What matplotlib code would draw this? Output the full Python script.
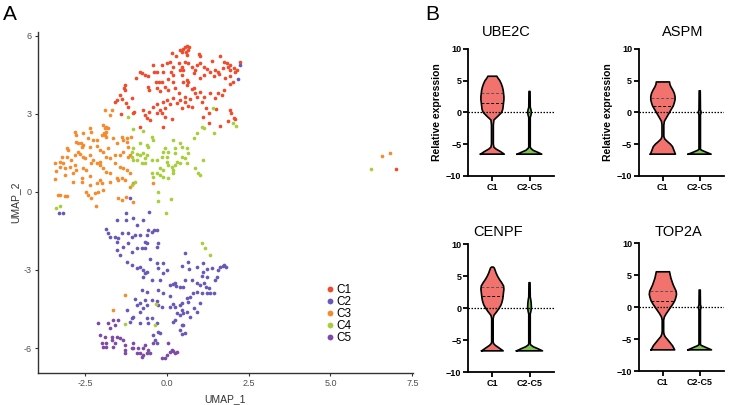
import numpy as np
import matplotlib
matplotlib.use("Agg")
import matplotlib.pyplot as plt
from matplotlib.lines import Line2D

plt.rcParams["font.family"] = ["Liberation Sans", "DejaVu Sans"]

# ---- panel A: UMAP embedding, (UMAP_1, UMAP_2) per cluster ----
clusters = ["C1", "C2", "C3", "C4", "C5"]
cluster_colors = ["#EF4B2C", "#6A58B8", "#F68B2E", "#A9CE3B", "#7D4AA6"]

c1_pts = [
    (0.49, 5.49), (0.56, 5.59), (0.63, 5.62), (0.69, 5.59), (0.66, 5.46), (0.59, 5.40),
    (0.46, 5.40), (0.41, 5.46), (0.15, 5.36), (0.29, 5.21), (1.00, 5.31), (1.02, 5.21),
    (0.61, 5.27), (1.63, 5.21), (1.76, 5.01), (1.84, 4.95), (1.94, 4.88), (1.87, 4.82),
    (2.04, 4.76), (2.09, 4.63), (1.94, 4.69), (2.16, 4.69), (2.24, 4.99), (1.39, 5.05),
    (1.02, 4.95), (0.92, 4.88), (1.14, 4.82), (1.22, 4.73), (1.33, 4.63), (1.48, 4.67),
    (1.58, 4.63), (1.71, 4.76), (1.14, 4.50), (1.02, 4.37), (1.43, 4.44), (1.61, 4.54),
    (1.79, 4.37), (1.94, 4.44), (-0.15, 4.88), (0.00, 4.95), (0.10, 5.01), (0.20, 4.82),
    (0.36, 4.95), (0.46, 4.82), (0.51, 4.69), (0.41, 4.69), (0.56, 5.01), (0.66, 4.95),
    (0.77, 4.82), (0.87, 4.69), (0.82, 4.56), (-0.41, 4.88), (-0.39, 4.63), (-0.29, 4.63),
    (-0.10, 4.63), (0.12, 4.63), (0.20, 4.50), (0.46, 4.50), (0.61, 4.31), (0.66, 4.24),
    (0.20, 4.24), (0.05, 4.33), (-0.13, 4.24), (-0.23, 4.24), (-0.34, 4.24), (-0.56, 4.44),
    (-0.66, 4.50), (-0.77, 4.56), (-0.94, 4.40), (-0.82, 4.63), (-0.56, 4.03), (-0.53, 3.92),
    (-0.31, 3.99), (-0.20, 3.90), (-0.05, 4.05), (0.05, 3.92), (0.26, 3.99), (0.36, 3.79),
    (0.51, 4.24), (0.61, 4.12), (0.77, 3.95), (0.82, 3.99), (0.87, 3.79), (1.02, 3.86),
    (1.14, 3.67), (1.33, 3.79), (1.48, 3.60), (1.58, 3.79), (1.68, 3.73), (1.76, 3.92),
    (1.94, 4.15), (2.02, 4.24), (-1.28, 4.10), (-1.31, 4.00), (-1.28, 3.92), (-1.43, 3.73),
    (-1.38, 3.59), (-1.53, 3.54), (-1.58, 3.44), (-1.24, 3.41), (-1.07, 3.60), (-1.17, 3.28),
    (-1.41, 2.99), (-1.02, 3.03), (-1.00, 3.09), (-0.71, 3.15), (-0.66, 2.96), (-0.61, 2.83),
    (-0.53, 3.09), (-0.41, 3.28), (-0.31, 3.38), (-0.22, 3.15), (-0.10, 3.47), (-0.05, 3.22),
    (0.02, 3.54), (0.10, 3.38), (0.20, 3.60), (0.31, 3.41), (0.41, 3.54), (0.56, 3.67),
    (0.56, 3.47), (0.71, 3.56), (0.92, 3.67), (1.07, 3.47), (0.46, 3.21), (0.66, 3.31),
    (0.77, 3.28), (1.20, 3.22), (1.28, 3.03), (1.51, 3.18), (1.12, 2.87), (1.28, 2.64),
    (1.63, 2.54), (1.94, 3.15), (1.96, 3.03), (1.87, 2.74), (2.04, 2.83), (2.09, 2.79),
    (0.15, 2.79), (-0.05, 2.90), (-0.10, 2.49), (-0.51, 2.77), (-0.82, 2.51), (-0.15, 3.03),
    (-0.31, 3.03), (7.01, 0.90),
]

c2_pts = [
    (2.24, 4.88), (2.17, 4.33), (-1.12, -0.24), (-3.29, -0.79), (-3.18, -0.82), (-1.24, -0.82),
    (-1.02, -1.01), (-0.71, -1.08), (-0.54, -0.76), (-1.51, -1.08), (-1.24, -1.08), (-0.92, -1.27),
    (-1.84, -1.44), (-1.79, -1.59), (-1.73, -1.72), (-1.58, -1.72), (-1.48, -1.78), (-1.53, -1.91),
    (-1.38, -1.59), (-1.17, -1.59), (-1.07, -1.72), (-0.97, -1.65), (-0.82, -1.65), (-0.61, -1.65),
    (-0.56, -1.46), (-0.46, -1.53), (-0.39, -1.46), (-0.29, -1.46), (-0.66, -1.91), (-0.61, -1.97),
    (-0.26, -1.95), (-1.53, -2.23), (-1.33, -2.10), (-1.17, -1.97), (-1.07, -2.29), (-0.92, -2.17),
    (-0.77, -2.17), (-0.66, -2.17), (-0.31, -2.10), (-1.43, -2.42), (-1.22, -2.68), (-1.07, -2.81),
    (-0.92, -2.94), (-0.82, -2.90), (-0.71, -3.00), (-0.66, -3.13), (-0.73, -3.26), (-0.61, -3.06),
    (-0.51, -2.59), (-0.31, -2.72), (-0.26, -2.94), (-0.10, -2.74), (0.00, -3.00), (-0.46, -3.38),
    (-0.20, -3.38), (-0.10, -3.13), (0.56, -2.33), (0.46, -2.85), (0.66, -2.68), (0.69, -2.97),
    (0.92, -2.90), (1.12, -2.74), (1.22, -2.97), (1.38, -2.94), (1.58, -3.00), (1.63, -2.90),
    (1.71, -2.85), (1.76, -2.82), (1.82, -2.90), (1.53, -3.26), (1.48, -3.38), (1.22, -3.26),
    (1.07, -3.23), (1.12, -3.06), (0.77, -3.38), (0.56, -3.38), (0.41, -3.64), (0.26, -3.51),
    (0.20, -3.54), (0.29, -3.62), (0.10, -3.59), (0.51, -3.67), (0.92, -3.51), (1.02, -3.58),
    (1.14, -3.49), (1.20, -3.64), (1.28, -3.71), (1.24, -3.87), (1.33, -3.90), (1.43, -3.87),
    (1.07, -3.90), (0.92, -3.86), (0.80, -3.90), (0.71, -4.03), (0.61, -4.09), (0.66, -4.22),
    (0.46, -4.26), (0.41, -4.35), (0.26, -4.41), (0.20, -4.31), (0.10, -4.41), (0.10, -4.00),
    (-0.10, -3.90), (-0.26, -3.77), (-0.61, -3.83), (-0.77, -3.77), (-0.97, -4.13), (-0.90, -4.35),
    (-0.82, -4.26), (-0.66, -4.15), (-0.61, -4.35), (-0.46, -4.15), (-0.31, -4.18), (-0.26, -4.35),
    (-0.15, -4.41), (0.46, -4.54), (0.51, -4.67), (0.61, -4.60), (0.41, -4.73), (0.31, -4.67),
    (0.26, -4.92), (0.20, -4.99), (0.82, -4.47), (0.92, -4.60), (1.02, -4.28), (0.71, -4.79),
    (0.51, -5.12), (0.46, -5.12), (0.41, -5.31), (0.46, -5.46), (0.56, -5.41), (-0.71, -4.47),
    (-0.82, -4.60), (-1.02, -4.79), (-1.07, -4.86), (-1.12, -4.99), (-1.22, -4.54), (-0.82, -5.05),
    (-0.56, -5.05), (-0.61, -4.86), (-0.46, -4.86), (-0.31, -5.05), (-0.26, -5.37), (-0.22, -5.44),
    (-0.41, -5.50), (-0.36, -5.69), (-0.31, -5.82),
]

c3_pts = [
    (-1.89, 3.15), (-1.68, 3.15), (-1.73, 2.96), (-2.81, 2.32), (-2.76, 2.19), (-2.55, 2.26),
    (-2.35, 2.45), (-2.30, 2.32), (-2.40, 2.06), (-2.24, 2.00), (-2.14, 2.00), (-1.94, 2.58),
    (-1.89, 2.45), (-1.84, 2.51), (-1.79, 2.45), (-1.84, 2.32), (-1.89, 2.19), (-1.84, 2.13),
    (-1.92, 2.26), (-1.99, 2.19), (-1.63, 2.06), (-1.38, 2.13), (-1.33, 2.00), (-1.22, 2.06),
    (-1.10, 2.13), (-2.76, 1.94), (-2.70, 1.87), (-2.62, 1.87), (-2.55, 1.81), (-2.60, 1.74),
    (-3.06, 1.68), (-3.01, 1.62), (-2.70, 1.55), (-2.65, 1.46), (-2.35, 1.74), (-2.14, 1.77),
    (-2.04, 1.62), (-1.94, 1.55), (-1.79, 1.68), (-1.58, 1.42), (-1.33, 1.55), (-1.17, 1.74),
    (-1.22, 1.94), (-1.53, 1.87), (-3.21, 1.36), (-3.27, 1.17), (-3.06, 1.36), (-2.91, 1.23),
    (-2.81, 1.42), (-2.55, 1.36), (-2.50, 1.29), (-2.35, 1.42), (-2.24, 1.23), (-2.14, 1.13),
    (-2.04, 1.17), (-1.84, 1.36), (-1.73, 1.29), (-1.58, 1.10), (-1.43, 1.42), (-1.17, 1.36),
    (-1.12, 1.42), (-3.42, 1.10), (-3.39, 0.82), (-3.27, 0.97), (-3.16, 1.10), (-3.11, 0.91),
    (-2.96, 0.97), (-2.81, 1.04), (-2.76, 0.85), (-2.55, 0.91), (-2.45, 0.85), (-2.30, 1.10),
    (-2.04, 1.04), (-1.94, 0.91), (-1.84, 0.78), (-1.73, 0.72), (-1.43, 0.97), (-1.33, 0.94),
    (-1.22, 0.85), (-3.42, 0.49), (-3.11, 0.65), (-2.86, 0.72), (-2.60, 0.53), (-2.35, 0.62),
    (-2.04, 0.46), (-1.53, 0.53), (-1.48, 0.46), (-1.38, 0.53), (-1.12, 0.72), (-2.86, 0.40),
    (-2.60, 0.40), (-2.35, 0.27), (-2.45, 0.01), (-2.40, -0.12), (-2.19, -0.05), (-2.09, 0.01),
    (-1.94, 0.08), (-2.14, 0.33), (-1.99, 0.33), (-1.73, 0.40), (-1.28, 0.46), (-1.12, 0.21),
    (-1.02, 0.33), (-0.43, 0.33), (-3.32, -0.12), (-3.27, -0.12), (-3.11, -0.15), (-3.06, -0.14),
    (-2.30, -0.24), (-2.16, -0.54), (-1.48, -0.24), (-1.38, -0.31), (-1.24, -0.18), (-1.04, -0.37),
    (-1.28, -3.96), (-1.63, -4.54), (6.56, 1.37), (6.83, 1.51),
]

c4_pts = [
    (-1.17, 2.90), (-1.04, 2.41), (-0.71, 2.36), (-0.46, 2.13), (-0.41, 2.00), (-0.61, 1.81),
    (-0.56, 1.74), (-0.82, 1.87), (-1.02, 1.68), (-1.07, 1.55), (-0.92, 1.46), (-0.82, 1.42),
    (-0.71, 1.49), (-0.61, 1.42), (-0.66, 1.29), (-0.92, 1.23), (-1.02, 1.23), (-1.07, 1.36),
    (-0.77, 1.10), (-0.66, 1.10), (-0.46, 1.23), (-0.31, 1.23), (-0.15, 1.36), (-0.10, 1.55),
    (-0.05, 1.68), (0.05, 1.55), (0.20, 2.00), (0.26, 1.68), (0.41, 1.87), (0.46, 1.74),
    (0.26, 1.49), (0.00, 1.36), (0.00, 1.17), (0.05, 1.04), (0.15, 0.97), (0.20, 0.85),
    (0.26, 1.04), (0.31, 1.17), (0.41, 1.10), (0.46, 1.36), (0.56, 1.29), (0.61, 1.10),
    (0.66, 1.49), (0.63, 1.68), (0.82, 2.06), (0.92, 2.26), (1.07, 2.51), (1.14, 2.47),
    (1.12, 1.23), (0.87, 0.91), (0.97, 0.72), (1.02, 0.65), (-0.20, 0.91), (-0.31, 0.72),
    (-0.41, 0.59), (-0.46, 0.72), (-0.22, 0.65), (-0.10, 0.59), (0.05, 0.53), (0.20, 0.74),
    (-0.12, 0.85), (-0.97, 0.40), (-1.07, 0.27), (1.40, 3.22), (1.45, 2.26), (2.01, 2.65),
    (2.11, 2.55), (-0.26, -0.01), (-0.26, -0.35), (0.12, -0.28), (-0.02, -0.82), (-3.39, -0.63),
    (-3.27, -0.54), (1.07, -1.95), (1.17, -2.17), (1.33, -2.42), (-0.34, -4.32), (-1.26, -5.08),
    (-0.36, -5.13), (6.25, 0.88),
]

c5_pts = [
    (-2.09, -5.05), (-2.04, -5.50), (-1.99, -5.79), (-1.89, -5.56), (-1.84, -5.82), (-1.79, -5.05),
    (-1.73, -5.24), (-1.63, -4.92), (-1.58, -5.12), (-1.48, -4.92), (-1.68, -5.56), (-1.53, -5.56),
    (-1.43, -5.63), (-1.58, -5.82), (-1.63, -5.95), (-1.33, -5.69), (-1.28, -5.88), (-1.28, -6.08),
    (-1.28, -6.21), (-1.07, -6.01), (-1.02, -6.01), (-1.02, -5.82), (-0.92, -6.21), (-0.77, -6.33),
    (-0.71, -6.27), (-0.71, -6.01), (-0.66, -5.88), (-0.56, -6.08), (-0.51, -6.21), (-0.61, -6.21),
    (-0.82, -6.21), (-0.87, -6.01), (-0.41, -5.82), (-0.15, -6.40), (-0.05, -6.40), (0.00, -6.27),
    (0.05, -5.82), (0.10, -6.14), (0.15, -6.08), (0.20, -6.10), (0.26, -6.21), (0.31, -6.14),
    (-1.84, -5.95), (-1.68, -5.69), (-1.94, -5.95),
]
cluster_pts = [c1_pts, c2_pts, c3_pts, c4_pts, c5_pts]

# ---- panel B: violin profiles (expression value, half width) ----
genes = ["UBE2C", "ASPM", "CENPF", "TOP2A"]
groups = ["C1", "C2-C5"]
group_colors = ["#F2736E", "#7DC352"]

ube2c_c1_y = [-6.6, -6.2, -5.8, -5.5, -5.0, -2.0, -1.2, -0.6, 0.0, 0.5, 1.0, 1.5, 2.0, 2.5, 3.0, 3.5, 4.0, 4.5, 5.0, 5.4, 5.7]
ube2c_c1_w = [0.32, 0.22, 0.10, 0.04, 0.025, 0.025, 0.04, 0.15, 0.25, 0.28, 0.29, 0.30, 0.31, 0.31, 0.30, 0.29, 0.27, 0.24, 0.20, 0.15, 0.12]
ube2c_rest_y = [-6.6, -6.3, -6.0, -5.7, -5.5, -0.8, -0.4, 0.0, 0.4, 0.8, 3.3]
ube2c_rest_w = [0.33, 0.22, 0.10, 0.04, 0.02, 0.02, 0.04, 0.05, 0.04, 0.02, 0.015]

aspm_c1_y = [-6.6, -6.0, -5.4, -5.0, -4.6, -4.2, -3.8, -2.0, -1.4, -1.0, -0.5, 0.0, 0.5, 1.0, 1.5, 2.0, 2.5, 3.0, 3.5, 4.0, 4.4, 4.8]
aspm_c1_w = [0.34, 0.30, 0.26, 0.20, 0.12, 0.05, 0.025, 0.025, 0.04, 0.08, 0.13, 0.18, 0.23, 0.28, 0.31, 0.33, 0.33, 0.31, 0.27, 0.22, 0.19, 0.18]
aspm_rest_y = [-6.6, -6.3, -6.0, -5.85, -0.4, 0.0, 0.4, 3.4]
aspm_rest_w = [0.31, 0.18, 0.06, 0.02, 0.02, 0.04, 0.02, 0.015]

cenpf_c1_y = [-6.65, -6.2, -5.8, -5.5, -5.2, -1.6, -1.1, -0.5, 0.0, 0.5, 1.0, 1.5, 2.0, 2.5, 3.0, 3.5, 4.0, 4.5, 5.0, 5.5, 6.0, 6.3, 6.45]
cenpf_c1_w = [0.29, 0.18, 0.08, 0.03, 0.02, 0.02, 0.04, 0.12, 0.18, 0.23, 0.26, 0.28, 0.29, 0.30, 0.31, 0.30, 0.25, 0.19, 0.14, 0.10, 0.07, 0.05, 0.02]
cenpf_rest_y = [-6.65, -6.3, -6.0, -5.7, -5.5, -0.9, -0.4, 0.2, 0.8, 1.3, 1.8, 4.0]
cenpf_rest_w = [0.35, 0.22, 0.10, 0.03, 0.02, 0.02, 0.04, 0.05, 0.045, 0.035, 0.02, 0.015]

top2a_c1_y = [-6.65, -6.0, -5.5, -5.0, -4.6, -4.2, -3.8, -2.0, -1.5, -1.0, -0.5, 0.0, 0.5, 1.0, 1.5, 2.0, 2.5, 3.0, 3.5, 4.0, 4.5, 5.0, 5.55]
top2a_c1_w = [0.32, 0.26, 0.19, 0.12, 0.06, 0.03, 0.02, 0.02, 0.04, 0.09, 0.15, 0.21, 0.27, 0.32, 0.35, 0.37, 0.36, 0.32, 0.28, 0.25, 0.22, 0.20, 0.18]
top2a_rest_y = [-6.65, -6.3, -6.0, -5.85, -0.4, 0.0, 0.4, 2.7]
top2a_rest_w = [0.32, 0.18, 0.06, 0.02, 0.02, 0.04, 0.02, 0.015]

# C1 quartile / median lines
c1_q3 = [3.1, 2.3, 3.4, 2.6]
c1_median = [1.5, 1.0, 1.9, 1.0]

violins = [
    [(ube2c_c1_y, ube2c_c1_w), (ube2c_rest_y, ube2c_rest_w)],
    [(aspm_c1_y, aspm_c1_w), (aspm_rest_y, aspm_rest_w)],
    [(cenpf_c1_y, cenpf_c1_w), (cenpf_rest_y, cenpf_rest_w)],
    [(top2a_c1_y, top2a_c1_w), (top2a_rest_y, top2a_rest_w)],
]

W, H = 729, 405
fig = plt.figure(figsize=(W / 100, H / 100), dpi=100)


def px_box(left, top, right, bottom):
    return [left / W, 1 - bottom / H, (right - left) / W, (bottom - top) / H]


# ---------------- panel A ----------------
ax = fig.add_axes(px_box(37.7, 32, 413, 373))
for pts, col, name in zip(cluster_pts, cluster_colors, clusters):
    pts = np.array(pts)
    ax.scatter(pts[:, 0], pts[:, 1], s=7, color=col, linewidths=0, label=name)

ax.set_xlim(-3.94, 7.52)
ax.set_ylim(-6.96, 6.15)
ax.set_xticks([-2.5, 0.0, 2.5, 5.0, 7.5])
ax.set_xticklabels(["-2.5", "0.0", "2.5", "5.0", "7.5"])
ax.set_yticks([-6, -3, 0, 3, 6])
ax.set_yticklabels(["-6", "-3", "0", "3", "6"])
for s in ["top", "right"]:
    ax.spines[s].set_visible(False)
for s in ["left", "bottom"]:
    ax.spines[s].set_color("#333333")
    ax.spines[s].set_linewidth(1.0)
ax.tick_params(length=2.5, width=0.8, color="#333333", labelsize=6.5, labelcolor="#4D4D4D", pad=2)
ax.set_xlabel("UMAP_1", fontsize=7.5, color="#333333", labelpad=4)
ax.set_ylabel("UMAP_2", fontsize=7.5, color="#333333", labelpad=2)

handles = [Line2D([], [], marker="o", ls="none", ms=4.2, mec="none", mfc=c) for c in cluster_colors]
ax.legend(handles, clusters, loc="center left", bbox_to_anchor=(326 / W, 1 - 314 / H),
          bbox_transform=fig.transFigure, frameon=False, fontsize=8.5, handlelength=0.6,
          handletextpad=0.3, labelspacing=0.0, borderpad=0, borderaxespad=0)

fig.text(3 / W, 1 - 5 / H, "A", fontsize=15, va="top", ha="left")
fig.text(425 / W, 1 - 5 / H, "B", fontsize=15, va="top", ha="left")

# ---------------- panel B ----------------
boxes = [
    px_box(468.3, 49, 554, 175.7),
    px_box(639, 49, 724, 175.7),
    px_box(468.3, 244.3, 554, 372.3),
    px_box(639, 243.3, 724, 371.3),
]
title_pos = [(506.7, 31.7), (682.7, 31.7), (498.3, 232.3), (678.3, 232.3)]


def draw_violin(a, pos, ys, ws, color):
    ys = np.asarray(ys)
    ws = np.asarray(ws)
    a.fill_betweenx(ys, pos - ws, pos + ws, facecolor=color, edgecolor="none", zorder=2)
    xs = np.concatenate([pos - ws, (pos + ws)[::-1], [pos - ws[0]]])
    yy = np.concatenate([ys, ys[::-1], [ys[0]]])
    a.plot(xs, yy, color="black", lw=1.2, zorder=4, solid_joinstyle="round")


for i, gene in enumerate(genes):
    a = fig.add_axes(boxes[i])
    a.axhline(0, color="black", lw=0.9, ls=(0, (1.2, 1.2)), zorder=3)
    for j, (ys, ws) in enumerate(violins[i]):
        draw_violin(a, j + 1, ys, ws, group_colors[j])
    c1y, c1w = violins[i][0]
    for q, col in [(c1_q3[i], "#555555"), (c1_median[i], "black")]:
        hw = np.interp(q, c1y, c1w)
        a.plot([1 - hw, 1 + hw], [q, q], color=col, lw=0.7, ls=(0, (3, 2)), zorder=3)

    a.set_xlim(0.35, 2.66)
    a.set_ylim(-10, 10)
    a.set_yticks([-10, -5, 0, 5, 10])
    a.set_xticks([1, 2])
    a.set_xticklabels(groups)
    for s in ["top", "right"]:
        a.spines[s].set_visible(False)
    for s in ["left", "bottom"]:
        a.spines[s].set_linewidth(1.3)
    a.tick_params(length=3.5, width=1.3, labelsize=6.5, pad=1.5)
    for lab in a.get_xticklabels() + a.get_yticklabels():
        lab.set_fontweight("bold")
    if i < 2:
        a.set_ylabel("Relative expression", fontsize=7.5, fontweight="bold", labelpad=3)
    tx, ty = title_pos[i]
    fig.text(tx / W, 1 - ty / H, gene, fontsize=10.5, ha="center", va="center")

fig.savefig("out.png", dpi=100)
